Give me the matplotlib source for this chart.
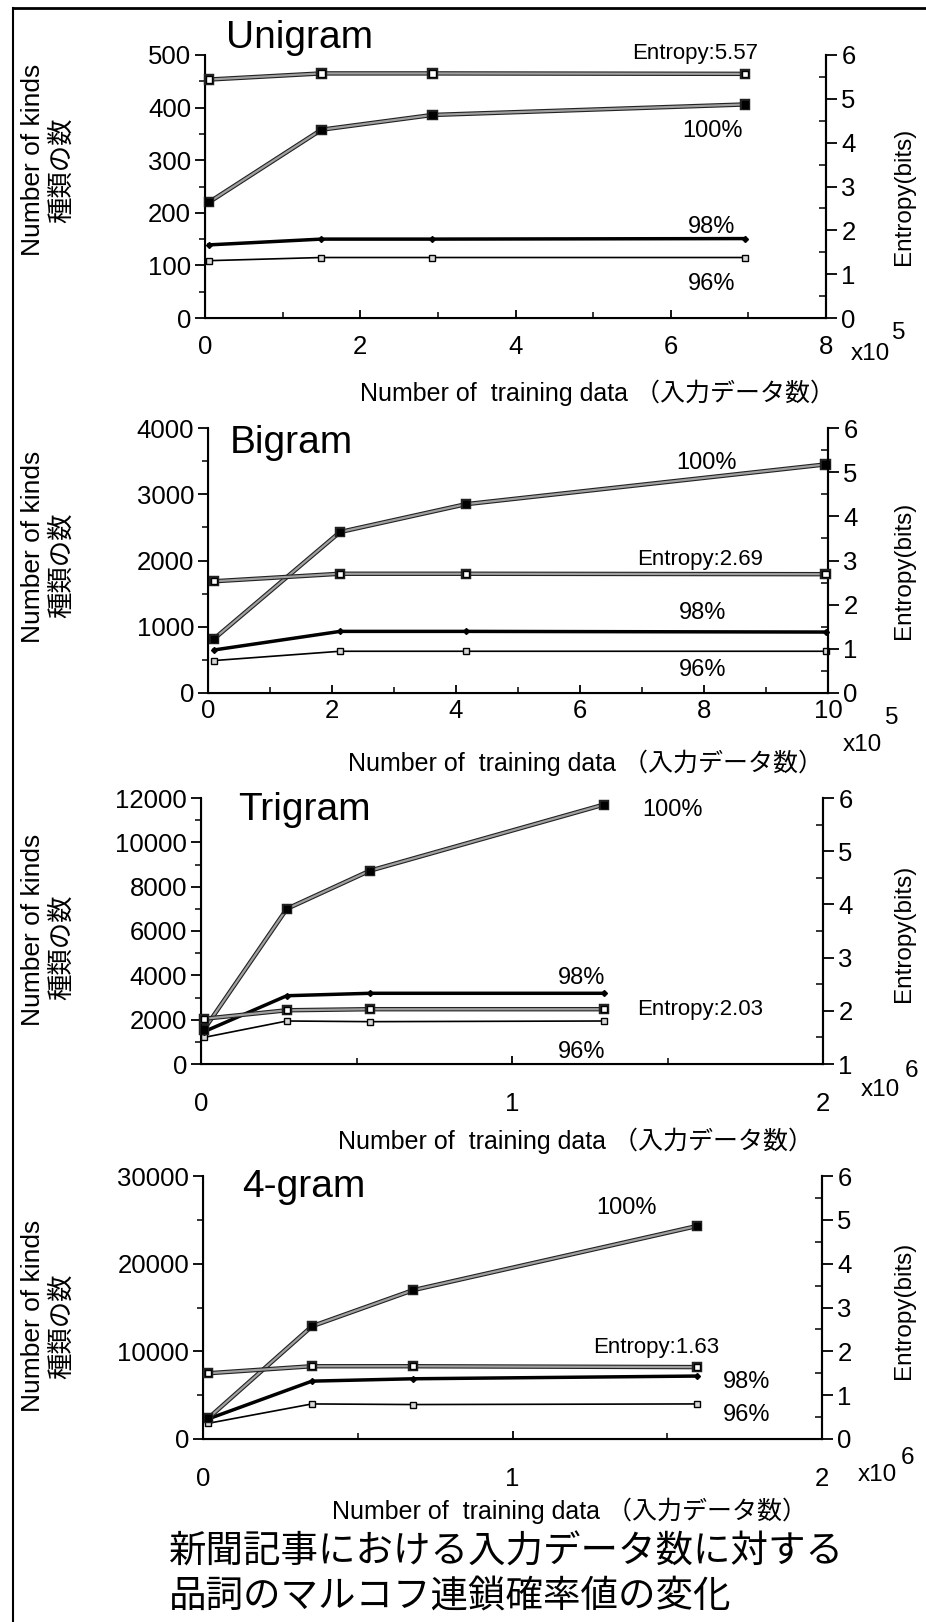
import matplotlib
matplotlib.use('Agg')
import matplotlib.pyplot as plt
import matplotlib.patheffects as pe
from matplotlib.ticker import MultipleLocator
from matplotlib.lines import Line2D
from matplotlib import font_manager as fm

W, H = 926, 1622
names = {f.name for f in fm.fontManager.ttflist}
NARROW_FAM = 'Liberation Sans Narrow' if 'Liberation Sans Narrow' in names else 'Liberation Sans'
LAT = ['Liberation Sans', 'Noto Sans CJK JP']
NAR = [NARROW_FAM, 'Noto Sans CJK JP']
plt.rcParams['font.family'] = LAT

# ---------------- data ----------------
uni_x = [0.05, 1.5, 2.93, 6.96]          # x 1e5
uni_100 = [220, 358, 386, 406]
uni_98 = [139, 150, 150, 151]
uni_96 = [109, 115, 115, 115]
uni_ent = [5.44, 5.58, 5.58, 5.57]

bi_x = [0.1, 2.13, 4.16, 9.96]           # x 1e5
bi_100 = [820, 2430, 2850, 3450]
bi_98 = [650, 930, 930, 920]
bi_96 = [490, 630, 630, 630]
bi_ent = [2.53, 2.70, 2.70, 2.69]

tri_x = [0.01, 0.276, 0.543, 1.295]      # x 1e6
tri_100 = [1560, 7000, 8720, 11700]
tri_98 = [1460, 3080, 3190, 3190]
tri_96 = [1200, 1940, 1910, 1940]
tri_ent = [1.85, 2.01, 2.03, 2.03]

four_x = [0.017, 0.352, 0.679, 1.597]    # x 1e6
four_100 = [2370, 12860, 16980, 24300]
four_98 = [2290, 6600, 6870, 7180]
four_96 = [1790, 4000, 3930, 4000]
four_ent = [1.50, 1.66, 1.66, 1.64]

titles = ['Unigram', 'Bigram', 'Trigram', '4-gram']
ent_labels = ['Entropy:5.57', 'Entropy:2.69', 'Entropy:2.03', 'Entropy:1.63']
pct_labels = ['100%', '98%', '96%']
ylab_en = 'Number of kinds'
ylab_ja = '種類の数'
ylab_r = 'Entropy(bits)'
xlab = 'Number of  training data （入力データ数）'
caption1 = '新聞記事における入力データ数に対する'
caption2 = '品詞のマルコフ連鎖確率値の変化'

fig = plt.figure(figsize=(W / 100, H / 100), dpi=100)


def T(x, y, s, size, fam=LAT, **kw):
    kw.setdefault('ha', 'center')
    kw.setdefault('va', 'center')
    fig.text(x / W, 1 - y / H, s, fontsize=size, family=fam, **kw)


def panel(box, xmax, xmaj, xmin, ylim, ymaj, ymin, rlim, x, s100, s98, s96, ent, xpad):
    l, r, t, b = box
    ax = fig.add_axes([l / W, 1 - b / H, (r - l) / W, (b - t) / H])
    ax.set_xlim(0, xmax)
    ax.set_ylim(*ylim)
    ax.xaxis.set_major_locator(MultipleLocator(xmaj))
    ax.xaxis.set_minor_locator(MultipleLocator(xmin))
    ax.yaxis.set_major_locator(MultipleLocator(ymaj))
    ax.yaxis.set_minor_locator(MultipleLocator(ymin))
    ax.patch.set_alpha(0)
    ax.spines['top'].set_visible(False)
    for s in ['left', 'bottom', 'right']:
        ax.spines[s].set_linewidth(1.5)
    ax.tick_params(axis='y', which='major', direction='out', length=7, width=1.3,
                   labelsize=18.5, pad=3)
    ax.tick_params(axis='y', which='minor', direction='out', length=4, width=1.1)
    ax.tick_params(axis='x', which='major', direction='in', length=6, width=1.3,
                   labelsize=18.5, pad=xpad)
    ax.tick_params(axis='x', which='minor', direction='in', length=4, width=1.1)
    for lab in ax.get_xticklabels() + ax.get_yticklabels():
        lab.set_family(NAR)

    axr = ax.twinx()
    axr.set_ylim(*rlim)
    axr.yaxis.set_major_locator(MultipleLocator(1))
    axr.yaxis.set_minor_locator(MultipleLocator(0.5))
    axr.spines['top'].set_visible(False)
    axr.spines['right'].set_linewidth(1.5)
    axr.tick_params(axis='y', which='major', direction='out', length=8, width=1.3,
                    labelsize=18.5, pad=3)
    axr.tick_params(axis='y', which='minor', direction='in', length=5, width=1.1)
    for lab in axr.get_yticklabels():
        lab.set_family(NAR)

    halo = [pe.Stroke(linewidth=3.2, foreground='#222222'), pe.Normal()]
    ax.plot(x, s96, color='black', lw=1.2, marker='s', ms=4.5, mfc='#d8d8d8',
            mec='black', mew=1.0, zorder=3, clip_on=False)
    ax.plot(x, s98, color='black', lw=2.5, marker='D', ms=3, mfc='black',
            mec='black', zorder=4, clip_on=False)
    ax.plot(x, s100, color='#a0a0a0', lw=1.6, path_effects=halo, marker='s', ms=4.5,
            mfc='black', mec='black', zorder=5, clip_on=False)
    axr.plot(x, ent, color='#a0a0a0', lw=1.6, path_effects=halo, marker='s', ms=4.5,
             mfc='white', mec='black', mew=1.0, zorder=5, clip_on=False)
    return ax, axr


panel((205, 826, 55, 318), 8, 2, 1, (0, 500), 100, 50, (0, 6),
      uni_x, uni_100, uni_98, uni_96, uni_ent, 12)
panel((208, 828, 428, 693), 10, 2, 1, (0, 4000), 1000, 500, (0, 6),
      bi_x, bi_100, bi_98, bi_96, bi_ent, 4)
panel((201, 823, 798, 1064), 2, 1, 0.5, (0, 12000), 2000, 1000, (1, 6),
      tri_x, tri_100, tri_98, tri_96, tri_ent, 20)
panel((203, 822, 1176, 1439), 2, 1, 0.5, (0, 30000), 10000, 5000, (0, 6),
      four_x, four_100, four_98, four_96, four_ent, 20)

# ---------------- texts ----------------
title_pos = [(226, 38), (230, 443), (238, 810), (242, 1187)]
for (x, y), s in zip(title_pos, titles):
    T(x, y, s, 28, ha='left')

ent_pos = [(695, 53), (700, 560), (700, 1010), (656, 1347)]
for (x, y), s in zip(ent_pos, ent_labels):
    T(x, y, s, 16, fam=NAR)

pct_pos = [
    [(712, 131), (712, 227), (712, 284)],
    [(706, 463), (703, 613), (703, 670)],
    [(673, 810), (582, 978), (582, 1052)],
    [(626, 1208), (747, 1382), (747, 1415)],
]
for row in pct_pos:
    for (x, y), s in zip(row, pct_labels):
        T(x, y, s, 17, fam=NAR)

ylab_c = [(160, 170, 196), (547, 565, 570), (930, 947, 933), (1316, 1326, 1310)]
for yen, yja, yr in ylab_c:
    T(33, yen, ylab_en, 19, rotation=90)
    T(61, yja, ylab_ja, 19, fam=['Noto Sans CJK JP'], rotation=90)
    T(904, yr, ylab_r, 17.5, rotation=90)

xlab_pos = [(597, 393), (585, 763), (576, 1141), (569, 1511)]
for x, y in xlab_pos:
    T(x, y, xlab, 18, fam=NAR)

mult = [((870, 354), (899, 333), '5'), ((862, 745), (892, 718), '5'),
        ((880, 1090), (912, 1071), '6'), ((877, 1475), (908, 1458), '6')]
for (xm, ym), (xe, ye), e in mult:
    T(xm, ym, 'x10', 17.5, fam=NAR)
    T(xe, ye, e, 17.5, fam=NAR)

T(169, 1552, caption1, 27, fam=['Noto Sans CJK JP'], ha='left')
T(169, 1596, caption2, 27, fam=['Noto Sans CJK JP'], ha='left')

fig.add_artist(Line2D([13 / W, 1.0], [1 - 8 / H, 1 - 8 / H], color='black', lw=2,
                      transform=fig.transFigure))
fig.add_artist(Line2D([13 / W, 13 / W], [1 - 8 / H, 0.0], color='black', lw=1.5,
                      transform=fig.transFigure))

fig.savefig('out.png', dpi=100)
